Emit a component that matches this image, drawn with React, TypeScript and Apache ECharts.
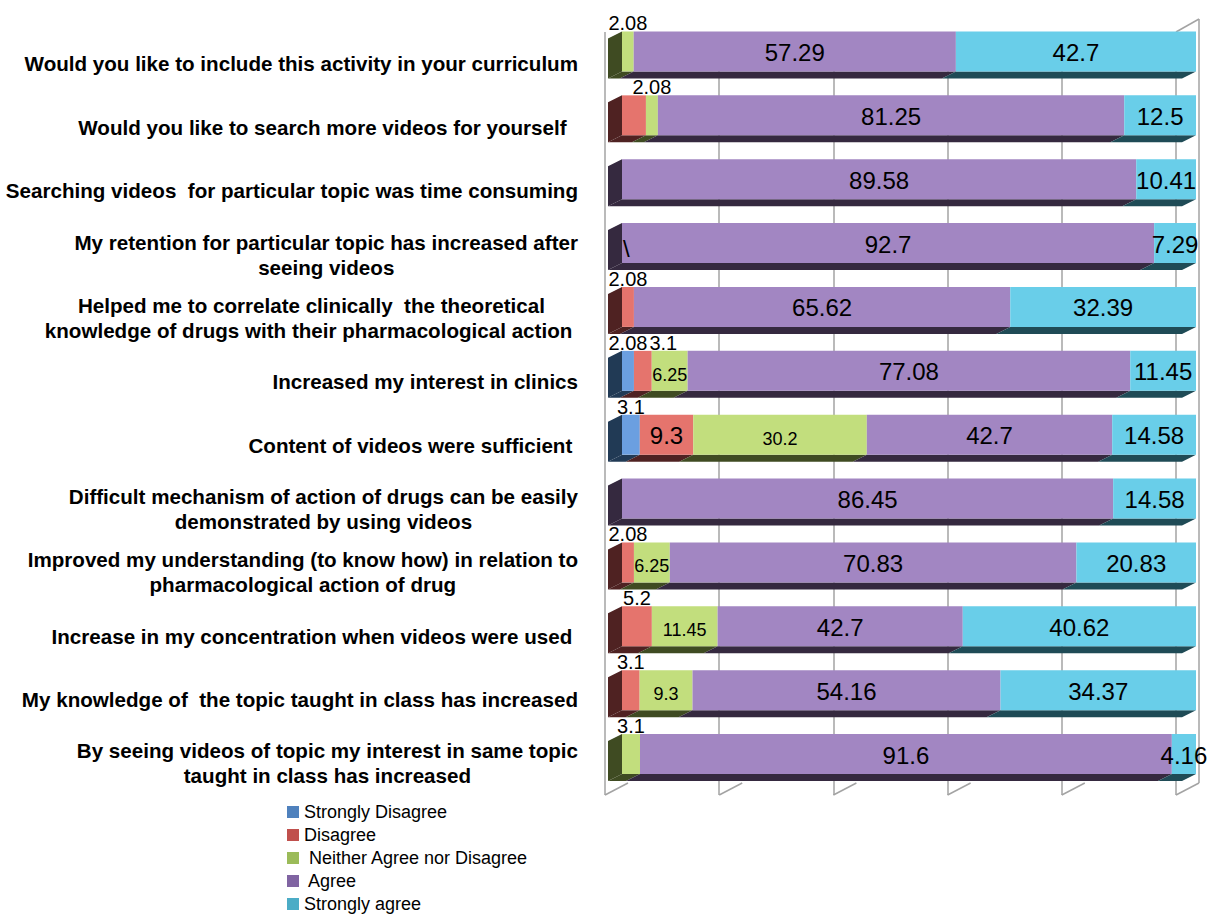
import React, { useEffect, useRef } from 'react';
import * as echarts from 'echarts';

const categories = [
  'Would you like to include this activity in your curriculum',
  'Would you like to search more videos for yourself  ',
  'Searching videos  for particular topic was time consuming',
  'My retention for particular topic has increased after\nseeing videos',
  'Helped me to correlate clinically  the theoretical\nknowledge of drugs with their pharmacological action ',
  'Increased my interest in clinics',
  'Content of videos were sufficient ',
  'Difficult mechanism of action of drugs can be easily\ndemonstrated by using videos',
  'Improved my understanding (to know how) in relation to\npharmacological action of drug',
  'Increase in my concentration when videos were used ',
  'My knowledge of  the topic taught in class has increased',
  'By seeing videos of topic my interest in same topic\ntaught in class has increased',
];

const seriesNames = [
  'Strongly Disagree',
  'Disagree',
  ' Neither Agree nor Disagree',
  ' Agree',
  'Strongly agree',
];

const stronglyDisagree = [0, 0, 0, 0, 0, 2.08, 3.1, 0, 0, 0, 0, 0];
const disagree = [0, 4.17, 0, 0, 2.08, 3.1, 9.3, 0, 2.08, 5.2, 3.1, 0];
const neither = [2.08, 2.08, 0, 0, 0, 6.25, 30.2, 0, 6.25, 11.45, 9.3, 3.1];
const agree = [57.29, 81.25, 89.58, 92.7, 65.62, 77.08, 42.7, 86.45, 70.83, 42.7, 54.16, 91.6];
const stronglyAgree = [42.7, 12.5, 10.41, 7.29, 32.39, 11.45, 14.58, 14.58, 20.83, 40.62, 34.37, 4.16];

const axisTicks = [0, 20, 40, 60, 80, 100];

// labels not shown in the original: [seriesIndex, rowIndex]
const unlabeled = [[1, 1]];
// stray glyph in the original, drawn at the left of a row
const strayMarks = [{ row: 3, text: '\\' }];

const frontColors = ['#6b9fe0', '#e5746d', '#c2de7d', '#a286c2', '#69cee9'];
const sideColors = ['#213a55', '#4f2222', '#3f4b22', '#35293f', '#1f4b56'];
const legendColors = ['#4f81bd', '#c0504d', '#9bbb59', '#8064a2', '#4bacc6'];

const FONT = 'Liberation Sans';
const DX = 14;
const DY = 7;

const seriesValues = [stronglyDisagree, disagree, neither, agree, stronglyAgree];
const rowTotals = categories.map((_, r) => seriesValues.reduce((s, a) => s + a[r], 0));
const stackedData = seriesValues.map((arr, si) =>
  arr.map((v, r) => {
    const before = seriesValues.slice(0, si).reduce((s, a) => s + a[r], 0);
    return [(before / rowTotals[r]) * 100, ((before + v) / rowTotals[r]) * 100, r, v];
  })
);
const firstSeries = categories.map((_, r) => seriesValues.findIndex((a) => a[r] > 0));

const isHidden = (si: number, r: number) => unlabeled.some(([s, rr]) => s === si && rr === r);
const isAbove = (si: number, r: number) => {
  const v = seriesValues[si][r];
  return si <= 2 && v > 0 && v < 6 && !isHidden(si, r);
};
const textWidth = (t: string, size: number) => {
  let w = 0;
  for (const ch of t) w += ch === '.' ? 0.278 : 0.556;
  return w * size;
};

export default function App() {
  const ref = useRef<HTMLDivElement>(null);
  useEffect(() => {
    if (!ref.current) return;
    const chart = echarts.init(ref.current, undefined, { renderer: 'svg' });

    const barSeries = seriesNames.map((name, si) => ({
      type: 'custom',
      name,
      xAxisIndex: 1,
      yAxisIndex: 1,
      itemStyle: { color: legendColors[si] },
      encode: { x: [0, 1], y: 2 },
      data: stackedData[si],
      renderItem: (params: any, api: any) => {
        const start = api.value(0);
        const end = api.value(1);
        const row = api.value(2);
        const raw = seriesValues[si][row];
        const band = api.size([0, 1])[1];
        const h = band * 0.625;
        const p0 = api.coord([start, row]);
        const p1 = api.coord([end, row]);
        const x0 = p0[0];
        const x1 = p1[0];
        const yTop = p0[1] - h / 2;
        const yBot = yTop + h;
        const children: any[] = [];
        if (raw > 0) {
          children.push({
            type: 'polygon',
            shape: { points: [[x0, yBot], [x1, yBot], [x1 - DX, yBot + DY], [x0 - DX, yBot + DY]] },
            style: { fill: sideColors[si] },
          });
          if (firstSeries[row] === si) {
            children.push({
              type: 'polygon',
              shape: { points: [[x0, yTop], [x0, yBot], [x0 - DX, yBot + DY], [x0 - DX, yTop + DY]] },
              style: { fill: sideColors[si] },
            });
          }
          children.push({
            type: 'rect',
            shape: { x: x0, y: yTop, width: x1 - x0, height: h },
            style: { fill: frontColors[si] },
          });
          if (!isHidden(si, row)) {
            const text = String(raw);
            if (isAbove(si, row)) {
              const size = 20;
              let cx = (x0 + x1) / 2;
              const w = textWidth(text, size);
              // avoid overlap with previous above-label in the row
              for (let sp = 0; sp < si; sp++) {
                if (isAbove(sp, row)) {
                  const d = stackedData[sp][row];
                  const q0 = api.coord([d[0], row])[0];
                  const q1 = api.coord([d[1], row])[0];
                  const pw = textWidth(String(seriesValues[sp][row]), size);
                  const prevRight = (q0 + q1) / 2 + pw / 2;
                  if (cx - w / 2 < prevRight + 2) cx = prevRight + 2 + w / 2;
                }
              }
              children.push({
                type: 'text',
                z2: 50,
                style: {
                  text,
                  x: cx,
                  y: yTop + 2,
                  align: 'center',
                  verticalAlign: 'bottom',
                  fontSize: size,
                  fontFamily: FONT,
                  fill: '#000',
                },
              });
            } else {
              const small = si === 2;
              children.push({
                type: 'text',
                z2: 50,
                style: {
                  text,
                  x: (x0 + x1) / 2,
                  y: (yTop + yBot) / 2 + (small ? 4 : 1),
                  align: 'center',
                  verticalAlign: 'middle',
                  fontSize: small ? 18 : 24,
                  fontFamily: FONT,
                  fill: '#000',
                },
              });
            }
          }
        }
        strayMarks.forEach((m) => {
          if (si === 0 && m.row === row) {
            children.push({
              type: 'text',
              z2: 50,
              style: {
                text: m.text,
                x: x0 + 1,
                y: (yTop + yBot) / 2 + 5,
                align: 'left',
                verticalAlign: 'middle',
                fontSize: 24,
                fontFamily: FONT,
                fill: '#000',
              },
            });
          }
        });
        return { type: 'group', children };
      },
    }));

    const frameSeries = {
      type: 'custom',
      xAxisIndex: 0,
      yAxisIndex: 0,
      silent: true,
      encode: { x: 0, y: 1 },
      data: axisTicks.map((v) => [v, 0]),
      renderItem: (params: any, api: any) => {
        const v = api.value(0);
        const cs = params.coordSys;
        const x = api.coord([v, 0])[0];
        const bottom = cs.y + cs.height;
        const lineStyle = { stroke: '#a3a3a3', lineWidth: 1.5 };
        const children: any[] = [
          { type: 'line', shape: { x1: x, y1: bottom, x2: x + 23, y2: bottom - 12 }, style: lineStyle },
        ];
        if (v === axisTicks[axisTicks.length - 1]) {
          children.push({ type: 'line', shape: { x1: x + 23, y1: bottom - 12, x2: x + 23, y2: cs.y - 13 }, style: lineStyle });
          children.push({ type: 'line', shape: { x1: x, y1: cs.y, x2: x + 23, y2: cs.y - 13 }, style: lineStyle });
        }
        return { type: 'group', children };
      },
    };

    chart.setOption({
      animation: false,
      backgroundColor: '#ffffff',
      grid: [
        { left: 605, right: 43, top: 32, bottom: 121 },
        { left: 622, right: 23, top: 19.5, bottom: 130 },
      ],
      xAxis: [
        {
          gridIndex: 0,
          type: 'value',
          min: 0,
          max: 100,
          interval: 20,
          axisLabel: { show: false },
          axisLine: { show: false },
          axisTick: { show: false },
          splitLine: { show: true, lineStyle: { color: '#a3a3a3', width: 1.5 } },
        },
        {
          gridIndex: 1,
          type: 'value',
          min: 0,
          max: 100,
          show: false,
          splitLine: { show: false },
        },
      ],
      yAxis: [
        {
          gridIndex: 0,
          type: 'category',
          data: categories,
          inverse: true,
          axisLine: { show: false },
          axisTick: { show: false },
          splitLine: { show: false },
          axisLabel: {
            margin: 27,
            interval: 0,
            align: 'right',
            formatter: (val: string) =>
              val
                .split('\n')
                .map((l) => `{c|${l}}`)
                .join('\n'),
            rich: {
              c: {
                align: 'center',
                fontSize: 20.6,
                fontWeight: 'bold',
                fontFamily: FONT,
                lineHeight: 25,
                color: '#000',
              },
            },
          },
        },
        {
          gridIndex: 1,
          type: 'category',
          data: categories,
          inverse: true,
          show: false,
        },
      ],
      legend: {
        orient: 'vertical',
        left: 287,
        top: 803,
        padding: 0,
        icon: 'rect',
        itemWidth: 12,
        itemHeight: 12,
        itemGap: 5,
        selectedMode: false,
        data: seriesNames,
        textStyle: { fontSize: 18, lineHeight: 18, fontFamily: FONT, color: '#000' },
      },
      series: [frameSeries, ...barSeries],
    });

    return () => chart.dispose();
  }, []);

  return (
    <div
      ref={ref}
      style={{ position: 'absolute', left: 0, top: 0, width: 1219, height: 916, background: '#fff' }}
    />
  );
}
